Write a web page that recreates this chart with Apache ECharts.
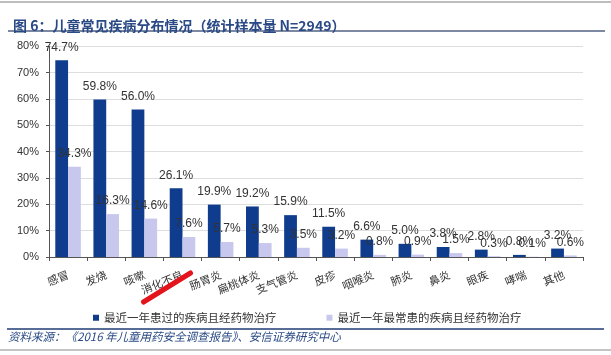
<!DOCTYPE html>
<html>
<head>
<meta charset="utf-8">
<script src="https://cdn.jsdelivr.net/npm/echarts@6/dist/echarts.min.js"></script>
<style>
html,body{margin:0;padding:0;background:#fff;}
#c{width:611px;height:355px;}
</style>
</head>
<body>
<div id="c"></div>
<script>
const categories = ['感冒','发烧','咳嗽','消化不良','肠胃炎','扁桃体炎','支气管炎','皮疹','咽喉炎','肺炎','鼻炎','眼疾','哮喘','其他'];
const seriesNames = ['最近一年患过的疾病且经药物治疗','最近一年最常患的疾病且经药物治疗'];
const pastYearValues = [74.7,59.8,56.0,26.1,19.9,19.2,15.9,11.5,6.6,5.0,3.8,2.8,0.8,3.2];
const mostFrequentValues = [34.3,16.3,14.6,7.6,5.7,5.3,3.5,3.2,0.8,0.9,1.5,0.3,0.1,0.6];
const titleText = '图 6：儿童常见疾病分布情况（统计样本量 N=2949）';
const sourceText = '资料来源：《2016 年儿童用药安全调查报告》、安信证券研究中心';
const highlightCategory = '消化不良';

const CJK = '"Noto Sans CJK SC", sans-serif';
const LAT = '"Liberation Sans", Arial, sans-serif';

const chart = echarts.init(document.getElementById('c'), null, {renderer:'canvas'});
const labelCfg = {
  show: true, position: 'top', distance: 7,
  fontFamily: LAT, fontSize: 12, color: '#333',
  formatter: p => p.value.toFixed(1) + '%'
};
chart.setOption({
  animation: false,
  backgroundColor: '#fff',
  title: {
    text: titleText, left: 8, top: 14,
    textStyle: {fontFamily: CJK, fontSize: 14, fontWeight: 'bold', color: '#2a4a86'}
  },
  grid: {left: 49, right: 28, top: 46.4, bottom: 98},
  legend: {
    left: 88, top: 307, itemWidth: 6, itemHeight: 6, itemGap: 50, icon: 'rect',
    textStyle: {fontFamily: CJK, fontSize: 11.5, color: '#333'},
    data: seriesNames
  },
  xAxis: {
    type: 'category', data: categories,
    axisLine: {lineStyle: {color: '#555', width: 1}},
    axisTick: {show: true, alignWithLabel: false, length: 4, lineStyle: {color: '#555'}},
    axisLabel: {rotate: 22, margin: 17, interval: 0, fontFamily: CJK, fontSize: 11, color: '#333'}
  },
  yAxis: {
    type: 'value', min: 0, max: 80, interval: 10,
    axisLine: {show: true, lineStyle: {color: '#555'}},
    axisTick: {show: true, length: 3, lineStyle: {color: '#555'}},
    axisLabel: {formatter: '{value}%', fontFamily: LAT, fontSize: 11, color: '#333', margin: 10},
    splitLine: {lineStyle: {color: '#dedede', width: 1}}
  },
  series: [
    {name: seriesNames[0], type: 'bar', data: pastYearValues, barGap: '0%', barCategoryGap: '33%',
     itemStyle: {color: '#0f3c8c'}, label: labelCfg},
    {name: seriesNames[1], type: 'bar', data: mostFrequentValues,
     itemStyle: {color: '#c8c8ee'}, label: labelCfg}
  ]
});

const cx = chart.convertToPixel({xAxisIndex: 0}, highlightCategory);
const y0 = chart.convertToPixel({yAxisIndex: 0}, 0);
chart.setOption({
  graphic: [
    {type: 'line', shape: {x1: 0, y1: 2, x2: 611, y2: 2}, style: {stroke: '#bdbdbd', lineWidth: 2}},
    {type: 'line', shape: {x1: 8, y1: 31, x2: 605, y2: 31}, style: {stroke: '#7d89a3', lineWidth: 2}},
    {type: 'line', shape: {x1: 7, y1: 329, x2: 604, y2: 329}, style: {stroke: '#1f3b73', lineWidth: 1.5}},
    {type: 'line', shape: {x1: 0, y1: 350, x2: 611, y2: 350}, style: {stroke: '#c4c4c4', lineWidth: 2}},
    {type: 'text', left: 8, top: 331, style: {text: sourceText, fontFamily: CJK, fontSize: 11.5, fontStyle: 'italic', fill: '#2a4a86'}},
    {type: 'line', z: 100, shape: {x1: cx - 39, y1: y0 + 45, x2: cx + 8, y2: y0 + 16},
     style: {stroke: '#e3141b', lineWidth: 5, lineCap: 'round'}}
  ]
});
</script>
</body>
</html>
